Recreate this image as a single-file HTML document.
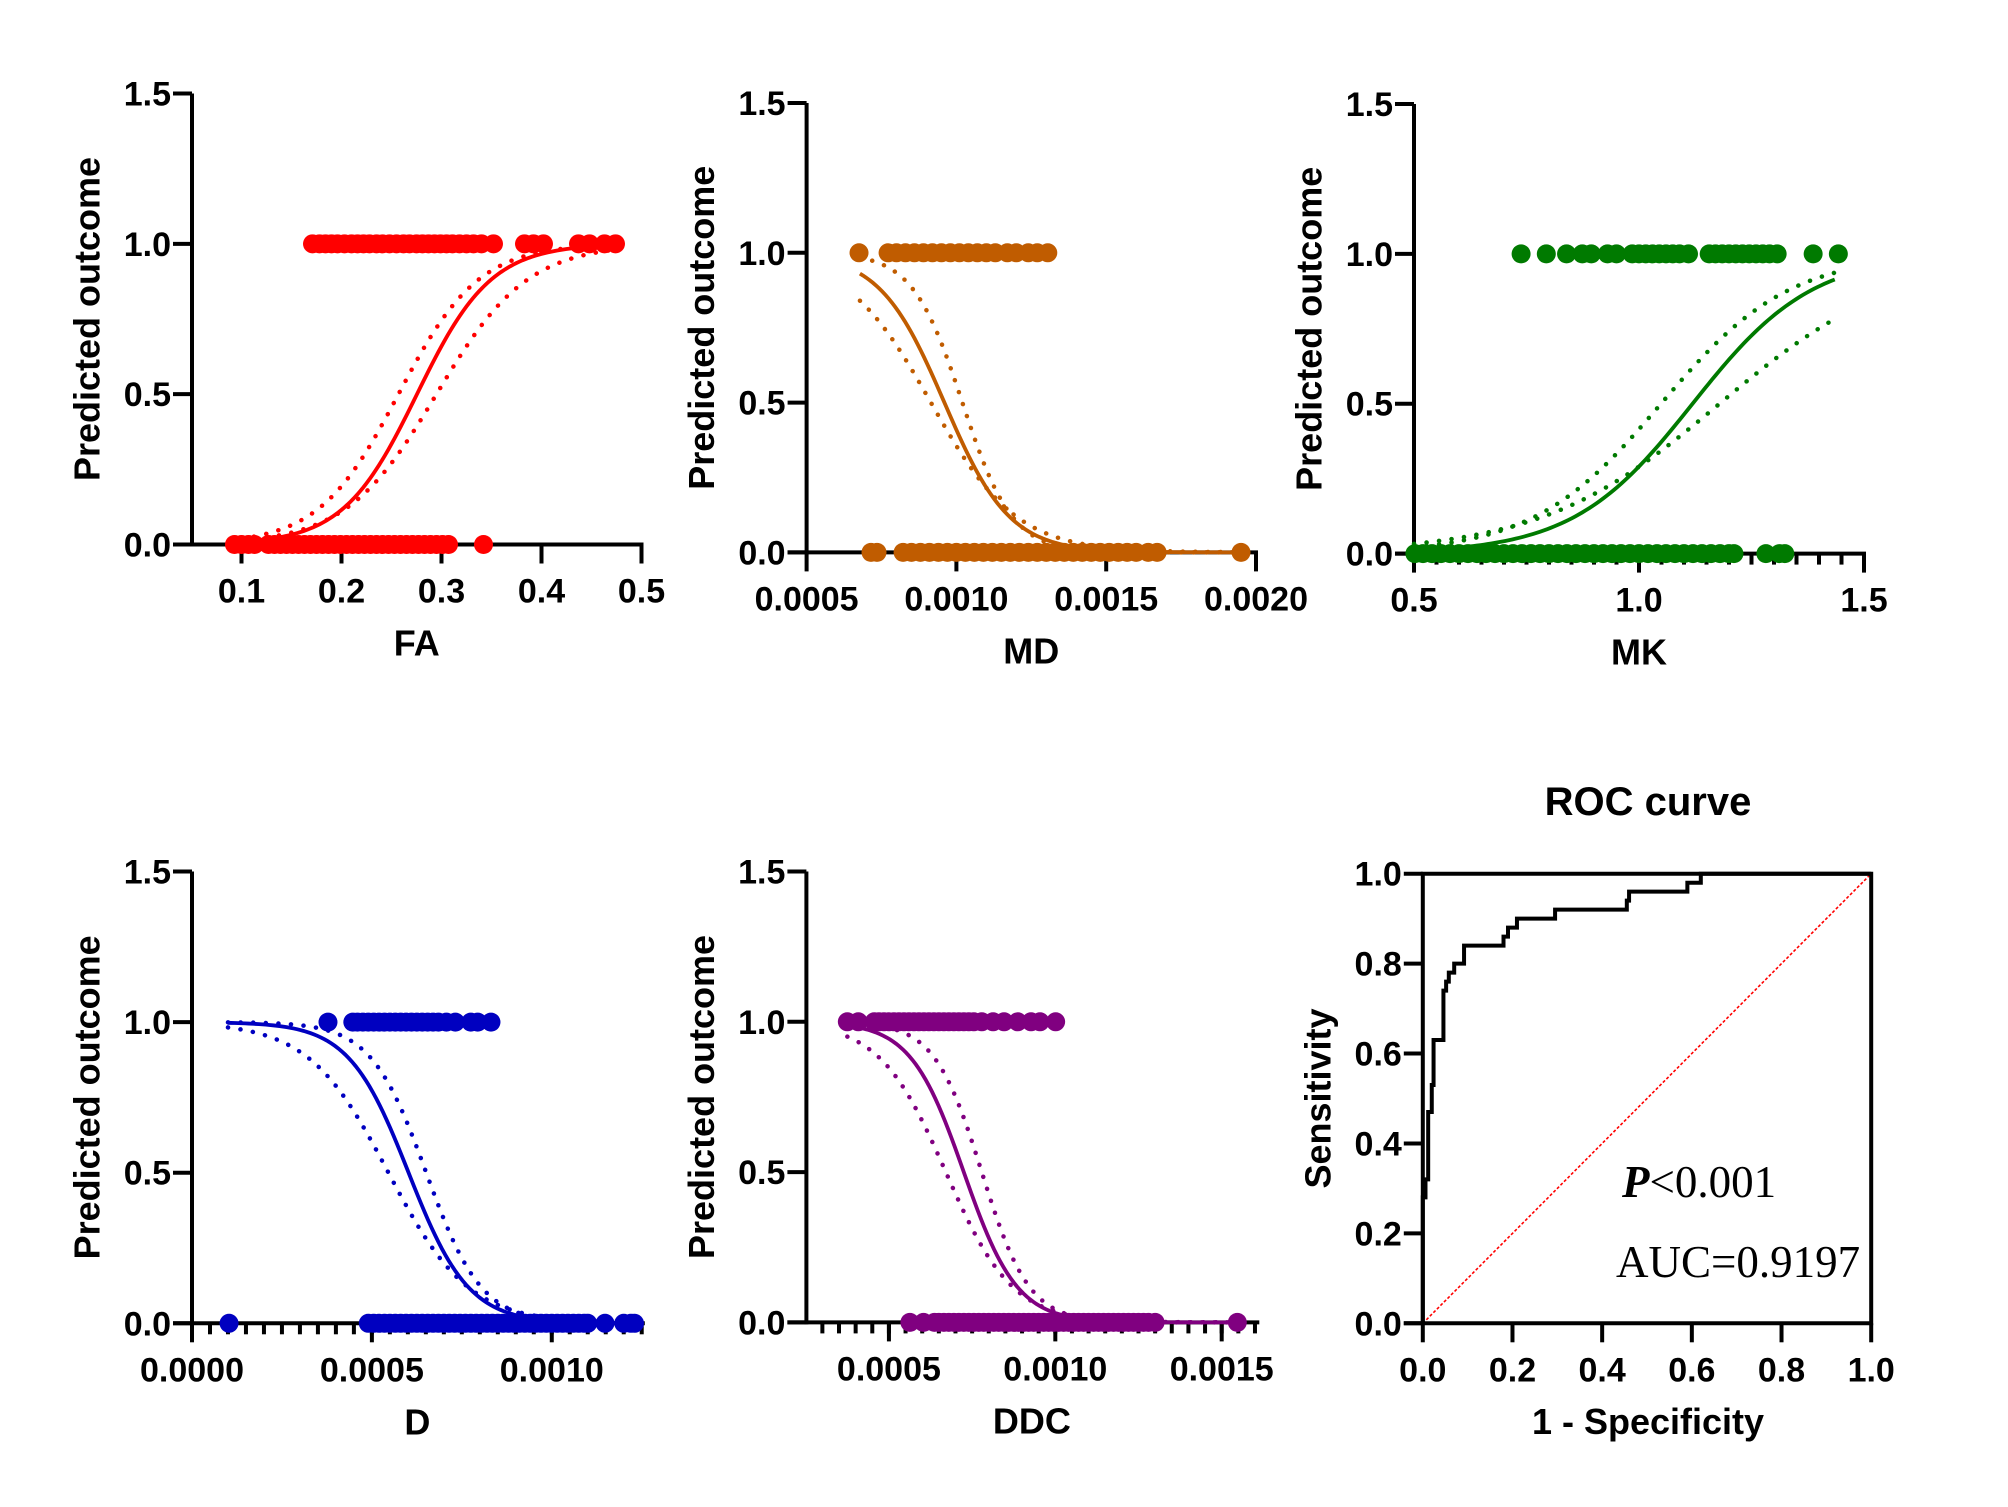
<!DOCTYPE html>
<html><head><meta charset="utf-8">
<style>
html,body{margin:0;padding:0;background:#fff;}
svg{display:block;}
text{font-family:"Liberation Sans",Arial,sans-serif;font-weight:bold;fill:#000;}
.serif{font-family:"Liberation Serif","Times New Roman",serif;font-weight:normal;}
</style></head>
<body>
<svg id="fig" width="2008" height="1507" viewBox="0 0 2008 1507" xmlns="http://www.w3.org/2000/svg"></svg>
<script>
// ---------- data ----------
const yTickVals = [0, 0.5, 1.0, 1.5];
const yTickLabels = ["0.0", "0.5", "1.0", "1.5"];

const faTicks = [0.1, 0.2, 0.3, 0.4, 0.5];
const faTickLabels = ["0.1", "0.2", "0.3", "0.4", "0.5"];
const faOnes = [0.171,0.178,0.184,0.19,0.196,0.203,0.21,0.216,0.222,0.228,0.235,0.241,0.248,0.255,0.262,0.268,0.275,0.281,0.287,0.293,0.299,0.305,0.311,0.318,0.325,0.332,0.340,0.352,0.383,0.392,0.402,0.437,0.448,0.463,0.474];
const faZeros = [0.093,0.1,0.107,0.113,0.127,0.133,0.139,0.145,0.151,0.157,0.163,0.169,0.175,0.181,0.187,0.193,0.199,0.205,0.211,0.217,0.223,0.229,0.235,0.241,0.247,0.253,0.259,0.265,0.271,0.277,0.283,0.289,0.295,0.301,0.307,0.342];
const faFit = [0.2755, 27];
const faUpper = [0.257, 25];
const faLower = [0.295, 22];
const faRange = [0.1, 0.475];

const mdTicks = [0.0005, 0.0010, 0.0015, 0.0020];
const mdTickLabels = ["0.0005", "0.0010", "0.0015", "0.0020"];
const mdOnes = [0.000675,0.000772,0.0008,0.00083,0.00086,0.00089,0.00092,0.00095,0.00098,0.00101,0.00104,0.00107,0.0011,0.00113,0.00117,0.0012,0.00124,0.00127,0.001305];
const mdZeros = [0.000715,0.000735,0.000822,0.00085,0.00088,0.00091,0.00094,0.00097,0.001,0.00103,0.00106,0.00109,0.00112,0.00115,0.00118,0.00121,0.00124,0.00127,0.0013,0.00133,0.00136,0.00139,0.00142,0.00145,0.00148,0.00151,0.00154,0.00157,0.0016,0.00164,0.00167,0.00195];
const mdFit = [0.00096, -9200];
const mdUpper = [0.00102, -12000];
const mdLower = [0.000915, -7000];
const mdRange = [0.000678, 0.00196];

const mkTicks = [0.5, 1.0, 1.5];
const mkTickLabels = ["0.5", "1.0", "1.5"];
const mkOnes = [0.738,0.794,0.839,0.874,0.894,0.93,0.95,0.985,1.0,1.015,1.03,1.045,1.06,1.075,1.09,1.11,1.156,1.17,1.185,1.2,1.215,1.23,1.245,1.26,1.275,1.29,1.307,1.387,1.443];
const mkZeros = [0.502,0.52,0.54,0.56,0.58,0.6,0.62,0.64,0.66,0.68,0.7,0.72,0.74,0.76,0.78,0.8,0.82,0.84,0.86,0.88,0.9,0.92,0.94,0.96,0.98,1.0,1.02,1.04,1.06,1.08,1.1,1.12,1.14,1.16,1.18,1.2,1.211,1.282,1.312,1.324];
const mkFit = [1.119, 7.5];
const mkUpper = [1.049, 7];
const mkLower = [1.179, 5];
const mkRange = [0.5, 1.435];

const dTicks = [0.0, 0.0005, 0.0010];
const dTickLabels = ["0.0000", "0.0005", "0.0010"];
const dOnes = [0.000378,0.000447,0.00046,0.000475,0.00049,0.000505,0.00052,0.000535,0.00055,0.000565,0.00058,0.000595,0.00061,0.000625,0.00064,0.000655,0.00067,0.000685,0.000707,0.000732,0.000775,0.000794,0.000831];
const dZeros = [0.000103,0.00049,0.000505,0.00052,0.000535,0.00055,0.000565,0.00058,0.000595,0.00061,0.000625,0.00064,0.000655,0.00067,0.000685,0.0007,0.000715,0.00073,0.000745,0.00076,0.000775,0.00079,0.000805,0.00082,0.000835,0.00085,0.000865,0.00088,0.000895,0.00091,0.000925,0.00094,0.000955,0.00097,0.000985,0.001,0.001015,0.00103,0.001045,0.00106,0.001075,0.00109,0.0011,0.001148,0.0012,0.00122,0.00123];
const dFit = [0.000602, -12000];
const dUpper = [0.000651, -13000];
const dLower = [0.000546, -9000];
const dRange = [0.0001, 0.00125];

const ddcTicks = [0.0005, 0.0010, 0.0015];
const ddcTickLabels = ["0.0005", "0.0010", "0.0015"];
const ddcOnes = [0.000375,0.000408,0.000456,0.00047,0.000485,0.0005,0.000515,0.00053,0.000545,0.00056,0.000575,0.00059,0.000605,0.00062,0.000635,0.00065,0.000665,0.00068,0.000695,0.00071,0.000725,0.00074,0.000755,0.000779,0.000813,0.000846,0.000887,0.000927,0.000954,0.001001];
const ddcZeros = [0.000563,0.000604,0.000637,0.00065,0.000665,0.00068,0.000695,0.00071,0.000725,0.00074,0.000755,0.00077,0.000785,0.0008,0.000815,0.00083,0.000845,0.00086,0.000875,0.00089,0.000905,0.00092,0.000935,0.00095,0.000965,0.00098,0.000995,0.00101,0.001025,0.00104,0.001055,0.00107,0.001085,0.0011,0.001115,0.00113,0.001145,0.00116,0.001175,0.00119,0.001205,0.00122,0.001235,0.00125,0.001265,0.00128,0.0013,0.001547];
const ddcFit = [0.000725, -12500];
const ddcUpper = [0.000779, -14000];
const ddcLower = [0.000671, -10000];
const ddcRange = [0.000375, 0.00155];

const rocTicks = [0, 0.2, 0.4, 0.6, 0.8, 1.0];
const rocTickLabels = ["0.0", "0.2", "0.4", "0.6", "0.8", "1.0"];
const rocStepX = [0, 0.006, 0.012, 0.02, 0.024, 0.046, 0.052, 0.058, 0.07, 0.092, 0.18, 0.19, 0.21, 0.295, 0.455, 0.46, 0.59, 0.62];
const rocStepY = [0.28, 0.32, 0.47, 0.53, 0.63, 0.74, 0.76, 0.78, 0.80, 0.84, 0.86, 0.88, 0.90, 0.92, 0.94, 0.96, 0.98, 1.0];

// ---------- drawing ----------
const NS = "http://www.w3.org/2000/svg";
const svg = document.getElementById("fig");
const TICK_FONT = 34;
function mk(tag, attrs, parent) {
  const e = document.createElementNS(NS, tag);
  for (const k in attrs) e.setAttribute(k, attrs[k]);
  (parent || svg).appendChild(e);
  return e;
}
function logistic(x, p) { return 1 / (1 + Math.exp(-p[1] * (x - p[0]))); }

function drawPanel(cfg) {
  const g = mk("g", {});
  
  
  const sx = v => cfg.left + (v - cfg.xmin) / (cfg.xmax - cfg.xmin) * (cfg.right - cfg.left);
  const sy = v => cfg.yb - v / 1.5 * (cfg.yb - cfg.yt);

  const yAxis = mk("line", {x1: cfg.left, y1: cfg.yt, x2: cfg.left, y2: cfg.yb + 2, stroke: "#000", "stroke-width": 4}, g);
  
  
  const xAxis = mk("line", {x1: cfg.left - 19, y1: cfg.yb, x2: cfg.right + 2, y2: cfg.yb, stroke: "#000", "stroke-width": 4}, g);
  
  

  yTickVals.forEach((v, i) => {
    const y = sy(v);
    mk("line", {x1: cfg.left - 19, y1: y, x2: cfg.left, y2: y, stroke: "#000", "stroke-width": 4}, g);
    const t = mk("text", {x: cfg.left - 21, y: y + 12, "font-size": TICK_FONT, "text-anchor": "end"}, g);
    t.textContent = yTickLabels[i];
    
    
  });
  if (cfg.minor) {
    for (let v = cfg.minor[0]; v <= cfg.minor[1] + 1e-12; v += cfg.minor[2]) {
      const x = sx(v);
      mk("line", {x1: x, y1: cfg.yb, x2: x, y2: cfg.yb + 11, stroke: "#000", "stroke-width": 4}, g);
    }
  }
  cfg.ticks.forEach((v, i) => {
    const x = sx(v);
    mk("line", {x1: x, y1: cfg.yb, x2: x, y2: cfg.yb + 19, stroke: "#000", "stroke-width": 4}, g);
    const t = mk("text", {x: x, y: cfg.yb + 58, "font-size": TICK_FONT, "text-anchor": "middle"}, g);
    t.textContent = cfg.tickLabels[i];
    
    
  });

  const xt = mk("text", {x: (cfg.left + cfg.right) / 2, y: cfg.yb + 111, "font-size": 36, "text-anchor": "middle"}, g);
  xt.textContent = cfg.title;
  
  
  const cy = (cfg.yb + cfg.yt) / 2, cx = cfg.left - 105;
  const yt = mk("text", {x: cx, y: cy, "font-size": 36, "text-anchor": "middle", "dominant-baseline": "central", transform: "rotate(-90 " + cx + " " + cy + ")"}, g);
  yt.textContent = "Predicted outcome";
  
  

  function curvePath(p) {
    let d = "";
    const n = 120;
    for (let i = 0; i <= n; i++) {
      const v = cfg.range[0] + (cfg.range[1] - cfg.range[0]) * i / n;
      d += (i ? "L" : "M") + sx(v).toFixed(2) + " " + sy(logistic(v, p)).toFixed(2);
    }
    return d;
  }
  [cfg.upper, cfg.lower].forEach((p, j) => {
    const c = mk("path", {d: curvePath(p), fill: "none", stroke: cfg.color, "stroke-width": 4.5, "stroke-dasharray": "0.1 12.5", "stroke-linecap": "round"}, g);
    
    
  });

  [[cfg.zeros, 0], [cfg.ones, 1]].forEach(([arr, yv]) => {
    arr.forEach(v => {
      const c = mk("circle", {cx: sx(v), cy: sy(yv), r: 9.5, fill: cfg.color}, g);
      
      
    });
  });

  const fit = mk("path", {d: curvePath(cfg.fit), fill: "none", stroke: cfg.color, "stroke-width": 3.8}, g);
  
  
}

drawPanel({name: "fa", title: "FA", color: "#ff0000", left: 192, right: 641.5, xmin: 0.0505, xmax: 0.5, yb: 544.5, yt: 93.5,
  ticks: faTicks, tickLabels: faTickLabels, ones: faOnes, zeros: faZeros, fit: faFit, upper: faUpper, lower: faLower, range: faRange});
drawPanel({name: "md", title: "MD", color: "#c05c00", left: 806.6, right: 1256, xmin: 0.0005, xmax: 0.0020, yb: 552.4, yt: 103,
  ticks: mdTicks, tickLabels: mdTickLabels, ones: mdOnes, zeros: mdZeros, fit: mdFit, upper: mdUpper, lower: mdLower, range: mdRange});
drawPanel({name: "mk", title: "MK", color: "#007a00", left: 1414, right: 1864, xmin: 0.5, xmax: 1.5, yb: 553.6, yt: 104,
  minor: [0.5, 1.5, 0.05],
  ticks: mkTicks, tickLabels: mkTickLabels, ones: mkOnes, zeros: mkZeros, fit: mkFit, upper: mkUpper, lower: mkLower, range: mkRange});
drawPanel({name: "d", title: "D", color: "#0000c0", left: 192, right: 642.8, xmin: 0, xmax: 0.001253, yb: 1323.3, yt: 871.5,
  minor: [0, 0.00125, 0.00005],
  ticks: dTicks, tickLabels: dTickLabels, ones: dOnes, zeros: dZeros, fit: dFit, upper: dUpper, lower: dLower, range: dRange});
drawPanel({name: "ddc", title: "DDC", color: "#800080", left: 806.4, right: 1257.3, xmin: 0.000252, xmax: 0.001607, yb: 1322.4, yt: 871.5,
  minor: [0.0003, 0.0016, 0.00005],
  ticks: ddcTicks, tickLabels: ddcTickLabels, ones: ddcOnes, zeros: ddcZeros, fit: ddcFit, upper: ddcUpper, lower: ddcLower, range: ddcRange});

(function () {
  const L = 1422.8, R = 1871.2, B = 1323.3, T = 873.7;
  const sx = v => L + v * (R - L);
  const sy = v => B - v * (B - T);
  const g = mk("g", {});
  
  

  const title = mk("text", {x: 1648, y: 815, "font-size": 40, "text-anchor": "middle"}, g);
  title.textContent = "ROC curve";
  
  

  const diag = mk("line", {x1: sx(0), y1: sy(0), x2: sx(1), y2: sy(1), stroke: "#ff0000", "stroke-width": 1.6, "stroke-dasharray": "3 2"}, g);
  
  

  const frame = mk("path", {d: "M" + L + " " + (B + 2) + "V" + T + "H" + R + "V" + (B + 2) + "M" + (L - 19) + " " + B + "H" + (R + 2), fill: "none", stroke: "#000", "stroke-width": 4}, g);
  
  

  rocTicks.forEach((v, i) => {
    mk("line", {x1: sx(v), y1: B, x2: sx(v), y2: B + 19, stroke: "#000", "stroke-width": 4}, g);
    mk("line", {x1: L - 19, y1: sy(v), x2: L, y2: sy(v), stroke: "#000", "stroke-width": 4}, g);
    const tx = mk("text", {x: sx(v), y: B + 58, "font-size": TICK_FONT, "text-anchor": "middle"}, g);
    tx.textContent = rocTickLabels[i];
    
    
    const ty = mk("text", {x: L - 21, y: sy(v) + 12, "font-size": TICK_FONT, "text-anchor": "end"}, g);
    ty.textContent = rocTickLabels[i];
    
    
  });

  let d = "M" + sx(0) + " " + sy(0);
  rocStepX.forEach((x, i) => {
    d += "H" + sx(x).toFixed(2) + "V" + sy(rocStepY[i]).toFixed(2);
  });
  d += "H" + sx(1);
  const curve = mk("path", {d: d, fill: "none", stroke: "#000", "stroke-width": 4}, g);
  
  

  const xt = mk("text", {x: 1648, y: 1434, "font-size": 36, "text-anchor": "middle"}, g);
  xt.textContent = "1 - Specificity";
  
  
  const cy = (B + T) / 2, cx = L - 105;
  const yt = mk("text", {x: cx, y: cy, "font-size": 36, "text-anchor": "middle", "dominant-baseline": "central", transform: "rotate(-90 " + cx + " " + cy + ")"}, g);
  yt.textContent = "Sensitivity";
  
  

  const p = mk("text", {x: 1622, y: 1197, "font-size": 45, "class": "serif"}, g);
  
  
  const pi = mk("tspan", {"font-style": "italic", "font-weight": "bold"}, p);
  pi.textContent = "P";
  const pr = mk("tspan", {}, p);
  pr.textContent = "<0.001";
  const auc = mk("text", {x: 1616, y: 1277, "font-size": 45, "class": "serif"}, g);
  auc.textContent = "AUC=0.9197";
  
  
})();
</script>
</body></html>
